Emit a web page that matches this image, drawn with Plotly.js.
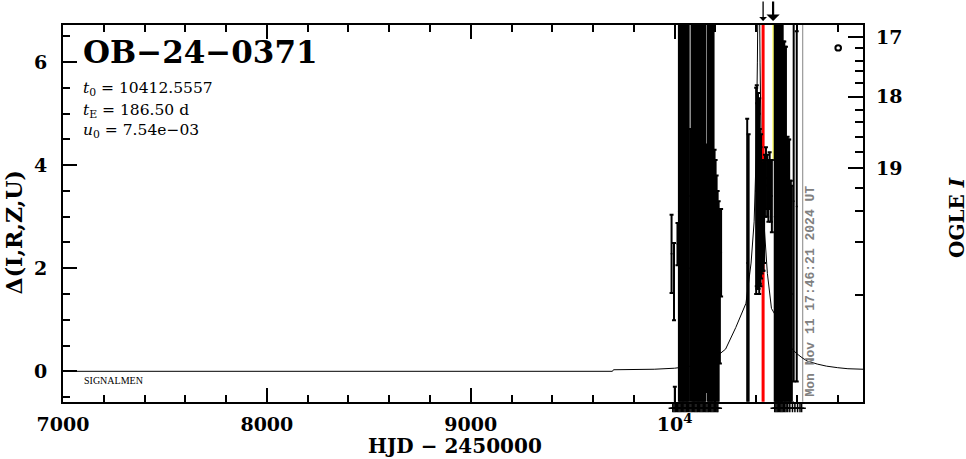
<!DOCTYPE html>
<html>
<head>
<meta charset="utf-8">
<script src="https://cdn.plot.ly/plotly-3.0.1.min.js"></script>
<style>html,body{margin:0;padding:0;background:#fff;}#chart{width:966px;height:459px;}</style>
</head>
<body>
<div id="chart"></div>
<script>
// ---- model light curve ----
const modelT = [7000, 9695, 9700, 9800, 9900, 10000, 10050, 10100, 10150, 10200, 10250, 10300, 10350, 10375, 10390, 10400, 10406, 10412.6, 10419, 10425, 10437, 10455, 10475, 10500, 10521, 10550, 10579, 10600, 10630, 10650, 10700, 10745, 10800, 10850, 10924];
const modelD = [0, 0, 0.03, 0.03, 0.04, 0.06, 0.08, 0.11, 0.17, 0.27, 0.43, 0.85, 1.32, 2.1, 2.9, 4.2, 6.0, 9.0, 6.0, 4.2, 2.95, 1.9, 1.22, 1.05, 0.87, 0.6, 0.42, 0.34, 0.25, 0.2, 0.14, 0.1, 0.07, 0.05, 0.04];

// ---- OGLE I observations: time, delta, error ----
const obsT = [9985, 9997, 10001, 10014,
  10021, 10025, 10029, 10033, 10037, 10041, 10045, 10049, 10053, 10057, 10061, 10065, 10069, 10076,
  10083, 10087, 10091, 10095, 10099, 10103, 10107, 10111, 10115, 10119, 10123, 10127, 10131, 10135,
  10139, 10143, 10147, 10151, 10157, 10163, 10167, 10171, 10175, 10179, 10183, 10187, 10191,
  10196, 10201, 10206, 10211, 10216, 10222, 10228,
  10356, 10363,
  10400, 10403, 10406, 10409, 10412, 10415, 10418, 10421, 10424, 10427, 10430, 10433, 10436, 10439,
  10443, 10448, 10454, 10460, 10466, 10472, 10477,
  10491, 10494, 10497, 10500, 10503, 10506, 10509, 10512, 10515, 10518, 10521, 10524, 10527, 10530,
  10534, 10538, 10542, 10546, 10550, 10554, 10558, 10562, 10566, 10570, 10575, 10584, 10599];
const obsD = [2.28, 1.74, -0.9, 2.47,
  3.1, 2.4, 3.5, 3.9, 2.8, 3.3, 2.6, 3.0, 3.6, 2.9, 3.2, 2.7, 3.4, 2.0,
  3.1, 2.5, 3.7, 3.0, 2.8, 3.3, 2.6, 3.5, 2.9, 3.1, 2.7, 3.4, 3.0, 2.5,
  3.6, 2.9, 3.2, 2.8, 2.0, 3.3, 2.6, 3.1, 2.9, 3.4, 2.7, 3.0, 2.6,
  1.5, 1.4, 1.3, 1.2, 1.3, 1.65, 2.3,
  2.1, 1.9,
  3.5, 3.6, 3.4, 3.5, 3.3, 3.4, 3.2, 3.0, 3.2, 3.0, 3.0, 3.0, 3.0, 3.1,
  3.6, 3.75, 3.6, 3.5, 3.7, 3.5, 3.4,
  3.0, 2.6, 3.3, 2.8, 3.1, 2.7, 3.2, 2.9, 3.4, 2.8, 3.1, 2.9, 3.0, 2.8,
  2.9, 2.8, 2.6, 2.7, 1.9, 1.9, 1.8, 1.9, 1.5, 1.5, 1.5, 3.3, 3.2];
const obsErr = [0.76, 0.75, 0.6, 0.41,
  5.0, 4.6, 5.2, 4.8, 5.1, 4.9, 5.3, 4.7, 5.0, 4.8, 5.2, 4.9, 5.1, 2.7,
  5.0, 4.8, 5.3, 4.6, 5.2, 4.9, 5.0, 4.7, 5.1, 4.8, 5.3, 4.9, 5.0, 4.7,
  5.2, 4.9, 5.0, 4.8, 2.4, 5.1, 4.9, 5.0, 4.8, 5.2, 4.9, 4.8, 4.6,
  2.8, 2.7, 2.5, 2.3, 2.0, 1.5, 0.85,
  2.8, 2.7,
  2.0, 1.95, 1.8, 1.9, 1.7, 1.9, 1.5, 1.35, 1.4, 1.1, 1.05, 1.05, 1.05, 1.0,
  0.6, 0.6, 0.6, 0.6, 0.55, 0.6, 0.7,
  4.2, 4.5, 4.0, 4.4, 4.1, 4.6, 4.3, 4.2, 4.0, 4.5, 4.2, 4.3, 4.4, 4.2,
  3.5, 3.6, 3.7, 3.6, 2.6, 2.65, 2.7, 2.6, 2.2, 2.2, 2.1, 3.5, 3.4];

// ---- epoch marks drawn below the axis ----
const markT = [9991, 9997, 10003, 10009, 10015, 10021, 10027, 10033, 10039, 10045, 10051, 10057, 10063, 10069,
  10075, 10081, 10087, 10093, 10099, 10105, 10111, 10117, 10123, 10129, 10135, 10141, 10147, 10153,
  10159, 10165, 10171, 10177, 10183, 10189, 10195, 10201, 10207, 10212,
  10491, 10497, 10503, 10509, 10515, 10521, 10527, 10533, 10540, 10547, 10555, 10565, 10578, 10590, 10603, 10615, 10623];

// ---- right axis: OGLE I magnitudes and their delta positions ----
const magMajorText = ["17", "18", "19"];
const magMajorDelta = [6.48, 5.33, 3.94];
const magMinorDelta = [6.27, 6.03, 5.82, 5.59, 5.07, 4.83, 4.55, 4.26, 3.55, 3.12, 2.51, 1.48];

// ---- x ticks ----
const xTickVals = [7000, 8000, 9000, 10000];
const xTickText = ["7000", "8000", "9000", "10<sup>4</sup>"];
const yTickVals = [0, 2, 4, 6];

// ---- marked times ----
const redT = 10434, yellowT = 10483, nowT = 10628;
const yellowFromD = 4.1;

const serif = "DejaVu Serif";
const black = "#000000";

const traces = [
  {x: modelT, y: modelD, yaxis: 'y2', type: 'scatter', mode: 'lines', line: {color: black, width: 1}, hoverinfo: 'skip'},
  {x: obsT, y: obsD, type: 'scatter', mode: 'markers', marker: {color: black, size: 2},
   error_y: {type: 'data', array: obsErr, visible: true, color: black, thickness: 2, width: 2}},
  {x: markT, y: markT.map(() => 0.5), yaxis: 'y3', type: 'scatter', mode: 'markers', cliponaxis: false,
   marker: {symbol: 'cross-thin-open', size: 6, color: black, line: {color: black, width: 1.5}}}
];

const yr = [-0.59, 6.72];
const yDom = [0.0266, 1];
const layout = {
  width: 966, height: 459,
  margin: {l: 63, r: 103, t: 25, b: 47, pad: 0},
  paper_bgcolor: '#fff', plot_bgcolor: '#fff',
  showlegend: false,
  xaxis: {
    range: [7000, 10924], tickmode: 'array', tickvals: xTickVals, ticktext: xTickText,
    anchor: 'y',
    ticks: 'inside', ticklen: 14, tickwidth: 2, tickcolor: black,
    minor: {ticks: 'inside', ticklen: 7, tickwidth: 2, tickcolor: black, tickmode: 'linear', tick0: 7000, dtick: 200, showgrid: false},
    showline: true, linewidth: 2, linecolor: black, mirror: 'ticks',
    showgrid: false, zeroline: false, ticklabelstandoff: 4,
    tickfont: {family: serif, size: 19, color: black, weight: 'bold'}
  },
  yaxis: {
    domain: yDom, range: yr, tickmode: 'array', tickvals: yTickVals,
    ticks: 'inside', ticklen: 14, tickwidth: 2, tickcolor: black,
    minor: {ticks: 'inside', ticklen: 7, tickwidth: 2, tickcolor: black, tickmode: 'linear', tick0: 0, dtick: 0.5, showgrid: false},
    showline: true, linewidth: 2, linecolor: black, mirror: true,
    showgrid: false, zeroline: false, ticklabelstandoff: 10,
    tickfont: {family: serif, size: 19, color: black, weight: 'bold'}
  },
  yaxis2: {
    domain: yDom, overlaying: 'y', side: 'right', range: yr, anchor: 'x',
    tickmode: 'array', tickvals: magMajorDelta, ticktext: magMajorText,
    ticks: 'inside', ticklen: 15, tickwidth: 2, tickcolor: black,
    minor: {ticks: 'inside', ticklen: 8, tickwidth: 2, tickcolor: black, tickmode: 'array', tickvals: magMinorDelta, showgrid: false},
    showline: false, showgrid: false, zeroline: false, ticklabelstandoff: 12,
    tickfont: {family: serif, size: 19, color: black, weight: 'bold'}
  },
  yaxis3: {
    domain: [0, 0.02], range: [0, 1], anchor: 'free', position: 0,
    visible: false, showgrid: false, zeroline: false, fixedrange: true
  },
  shapes: [
    {type: 'line', xref: 'x', yref: 'y domain', x0: redT, x1: redT, y0: 0, y1: 1, line: {color: '#ff0000', width: 3}, layer: 'below'},
    {type: 'line', xref: 'x', yref: 'y', x0: yellowT, x1: yellowT, y0: yellowFromD, y1: yr[1], line: {color: '#ffff00', width: 1}, layer: 'below'},
    {type: 'line', xref: 'x', yref: 'y domain', x0: nowT, x1: nowT, y0: 0, y1: 1, line: {color: '#a0a0a0', width: 1.3}, layer: 'below'},
    {type: 'circle', xref: 'paper', yref: 'y domain', x0: 0.9655, x1: 0.9725, y0: 0.932, y1: 0.946, line: {color: black, width: 2}}
  ],
  annotations: [
    {text: 'OB−24−0371', xref: 'paper', yref: 'y domain', x: 0.022, y: 0.927, xanchor: 'left', yanchor: 'middle', showarrow: false,
     font: {family: serif, size: 31, color: black, weight: 'bold'}},
    {text: '<i>t</i><sub>0</sub> = 10412.5557', xref: 'paper', yref: 'y domain', x: 0.022, y: 0.831, xanchor: 'left', yanchor: 'middle', showarrow: false,
     font: {family: serif, size: 15.5, color: black}},
    {text: '<i>t</i><sub>E</sub> = 186.50 d', xref: 'paper', yref: 'y domain', x: 0.022, y: 0.772, xanchor: 'left', yanchor: 'middle', showarrow: false,
     font: {family: serif, size: 15.5, color: black}},
    {text: '<i>u</i><sub>0</sub> = 7.54e−03', xref: 'paper', yref: 'y domain', x: 0.022, y: 0.718, xanchor: 'left', yanchor: 'middle', showarrow: false,
     font: {family: serif, size: 15.5, color: black}},
    {text: 'SIGNALMEN', xref: 'paper', yref: 'y domain', x: 0.024, y: 0.0563, xanchor: 'left', yanchor: 'middle', showarrow: false,
     font: {family: 'Liberation Serif', size: 10, color: black}},
    {text: 'Δ(I,R,Z,U)', xref: 'paper', yref: 'y domain', x: -0.061, y: 0.45, xanchor: 'center', yanchor: 'middle', textangle: -90, showarrow: false,
     font: {family: serif, size: 22, color: black, weight: 'bold'}},
    {text: 'OGLE <i>I</i>', xref: 'paper', yref: 'y domain', x: 1.1175, y: 0.4877, xanchor: 'center', yanchor: 'middle', textangle: -90, showarrow: false,
     font: {family: serif, size: 20, color: black, weight: 'bold'}},
    {text: 'HJD − 2450000', xref: 'paper', yref: 'y domain', x: 0.49, y: -0.117, xanchor: 'center', yanchor: 'middle', showarrow: false,
     font: {family: serif, size: 20, color: black, weight: 'bold'}},
    {text: 'Mon Nov 11 17:46:21 2024 UT', xref: 'paper', yref: 'y domain', x: 0.935, y: 0.2925, xanchor: 'center', yanchor: 'middle', textangle: -90, showarrow: false,
     font: {family: 'Liberation Mono', size: 13, color: '#808080', weight: 'bold'}},
    {text: '', xref: 'x', yref: 'y domain', x: redT, y: 1.0106, ax: 0, ay: -21, showarrow: true, arrowhead: 1, arrowsize: 1, arrowwidth: 1.3, arrowcolor: black},
    {text: '', xref: 'x', yref: 'y domain', x: yellowT, y: 1.0106, ax: 0, ay: -21, showarrow: true, arrowhead: 1, arrowsize: 1, arrowwidth: 2.2, arrowcolor: black}
  ]
};

Plotly.newPlot('chart', traces, layout, {displayModeBar: false, staticPlot: true});
</script>
</body>
</html>
